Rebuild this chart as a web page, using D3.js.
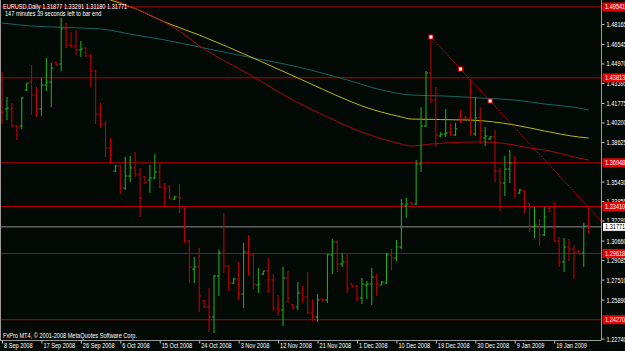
<!DOCTYPE html>
<html lang="en">
<head>
<meta charset="UTF-8">
<title>EURUSD Daily</title>
<script src="https://d3js.org/d3.v7.min.js"></script>
<style>
    body { margin: 0; background: #030a06; }
    svg { display: block; }
    text { font-family: "Liberation Sans", Arial, sans-serif; font-size: 7px; fill: #ffffff; }
</style>
</head>
<body>
<svg id="chart" width="625" height="351"></svg>
<script>
// OHLC, one entry per daily bar (8 Sep 2008 .. 26 Jan 2009)
const opens = [1.4364,1.4129,1.4129,1.3992,1.3992,1.4283,1.4347,1.4242,1.4129,1.4323,
    1.4347,1.4501,1.4493,1.4776,1.4646,1.4638,1.4606,1.4622,1.4558,1.4436,
    1.4089,1.4008,1.3814,1.3628,1.3669,1.3491,1.3588,1.3653,1.3604,1.3580,
    1.3556,1.3572,1.3620,1.3491,1.3499,1.3402,1.3418,1.3337,1.3063,1.2836,
    1.2853,1.2578,1.2529,1.2449,1.2780,1.2966,1.2861,1.2723,1.2748,1.2634,
    1.2974,1.2950,1.2707,1.2796,1.2820,1.2748,1.2521,1.2505,1.2764,1.2546,
    1.2529,1.2643,1.2610,1.2481,1.2449,1.2594,1.2586,1.2950,1.3055,1.2877,
    1.2893,1.2715,1.2699,1.2602,1.2707,1.2715,1.2772,1.2707,1.2723,1.2950,
    1.2925,1.3014,1.3346,1.3370,1.3362,1.3685,1.3992,1.4420,1.4202,1.3911,
    1.3927,1.3943,1.3919,1.4065,1.4065,1.4057,1.3927,1.4057,1.3895,1.3887,
    1.3903,1.3628,1.3531,1.3644,1.3693,1.3451,1.3467,1.3362,1.3176,1.3184,
    1.3111,1.3329,1.3337,1.3063,1.2893,1.3014,1.2998,1.2982,1.2966,1.31877];
const highs = [1.4428,1.4226,1.4178,1.4000,1.4226,1.4339,1.4485,1.4307,1.4380,1.4541,
    1.4501,1.4509,1.4865,1.4824,1.4751,1.4768,1.4679,1.4630,1.4574,1.4444,
    1.4178,1.4032,1.3895,1.3677,1.3677,1.3741,1.3750,1.3782,1.3653,1.3588,
    1.3677,1.3766,1.3693,1.3531,1.3515,1.3426,1.3523,1.3346,1.3071,1.2933,
    1.3006,1.2586,1.2683,1.2788,1.2990,1.3289,1.2869,1.2764,1.2893,1.3047,
    1.3111,1.2958,1.2845,1.2820,1.2925,1.2796,1.2626,1.2853,1.2820,1.2554,
    1.2731,1.2699,1.2812,1.2594,1.2634,1.2598,1.2958,1.3079,1.3071,1.2966,
    1.2958,1.2715,1.2707,1.2764,1.2740,1.2845,1.2796,1.2740,1.2966,1.2998,
    1.3071,1.3402,1.3410,1.3378,1.3717,1.4145,1.4436,1.4711,1.4307,1.3943,
    1.4129,1.4016,1.4016,1.4121,1.4073,1.4372,1.4226,1.4145,1.3984,1.3911,
    1.3960,1.3653,1.3750,1.3798,1.3750,1.3483,1.3475,1.3370,1.3337,1.3240,
    1.3337,1.3337,1.3378,1.3095,1.3087,1.3079,1.3030,1.2990,1.3208,1.33291];
const lows = [1.4008,1.4040,1.3984,1.3879,1.3968,1.4275,1.4081,1.4065,1.4073,1.4275,
    1.4145,1.4477,1.4436,1.4622,1.4622,1.4566,1.4549,1.4549,1.4307,1.4008,
    1.3976,1.3741,1.3693,1.3620,1.3442,1.3475,1.3539,1.3580,1.3257,1.3523,
    1.3451,1.3564,1.3491,1.3337,1.3402,1.3394,1.3289,1.3047,1.2723,1.2723,
    1.2489,1.2521,1.2327,1.2319,1.2618,1.2804,1.2659,1.2715,1.2586,1.2521,
    1.2788,1.2675,1.2643,1.2788,1.2643,1.2497,1.2457,1.2376,1.2562,1.2513,
    1.2505,1.2562,1.2473,1.2416,1.2408,1.2578,1.2562,1.2796,1.2812,1.2853,
    1.2643,1.2691,1.2570,1.2554,1.2594,1.2546,1.2618,1.2707,1.2715,1.2828,
    1.2901,1.2998,1.3249,1.3354,1.3354,1.3620,1.3984,1.4178,1.3822,1.3903,
    1.3903,1.3911,1.3911,1.4016,1.4048,1.3919,1.3911,1.3846,1.3830,1.3879,
    1.3539,1.3305,1.3426,1.3531,1.3410,1.3442,1.3289,1.3135,1.3087,1.3022,
    1.3103,1.3297,1.3055,1.2853,1.2812,1.2901,1.2756,1.2958,1.2853,1.31180];
const closes = [1.4105,1.4137,1.3992,1.3984,1.4218,1.4339,1.4242,1.4129,1.4323,1.4347,
    1.4461,1.4485,1.4776,1.4646,1.4638,1.4606,1.4614,1.4558,1.4436,1.4089,
    1.4008,1.3814,1.3758,1.3669,1.3491,1.3588,1.3653,1.3604,1.3410,1.3539,
    1.3572,1.3620,1.3499,1.3483,1.3410,1.3418,1.3410,1.3063,1.2853,1.2853,
    1.2618,1.2529,1.2449,1.2780,1.2966,1.2861,1.2723,1.2756,1.2634,1.2974,
    1.2950,1.2715,1.2715,1.2820,1.2748,1.2521,1.2505,1.2764,1.2602,1.2529,
    1.2643,1.2610,1.2481,1.2449,1.2586,1.2578,1.2950,1.3055,1.2877,1.2893,
    1.2683,1.2699,1.2602,1.2715,1.2715,1.2772,1.2715,1.2731,1.2950,1.2925,
    1.3014,1.3362,1.3362,1.3362,1.3685,1.3992,1.4420,1.4202,1.3919,1.3927,
    1.3935,1.3927,1.3968,1.4032,1.4057,1.3927,1.4057,1.3952,1.3911,1.3903,
    1.3628,1.3531,1.3644,1.3693,1.3475,1.3475,1.3370,1.3184,1.3192,1.3111,
    1.3257,1.3305,1.3063,1.2893,1.3014,1.2998,1.2966,1.2958,1.3184,1.31771];

// moving averages, sampled at bar indices
const maSlowBars = [0,6,13,20,27,33,40,50,60,70,77,83,90,97,104,110,117,119];
const maSlowValues = [1.4824,1.4800,1.4788,1.4776,1.4727,1.4687,1.4630,1.4549,1.4469,1.4364,1.4283,1.4242,1.4234,1.4218,1.4202,1.4170,1.4137,1.4121];
const maMidBars = [20,22,27,33,40,50,60,70,73,81,83,95,104,110,117,119];
const maMidValues = [1.5035,1.5010,1.4941,1.4832,1.4727,1.4558,1.4380,1.4202,1.4154,1.4065,1.4048,1.4040,1.4000,1.3952,1.3903,1.3895];
const maFastBars = [21,23,30,35,41,50,59,66,73,81,83,87,90,97,104,107,110,117,119];
const maFastValues = [1.5050,1.5010,1.4889,1.4784,1.4614,1.4412,1.4202,1.4065,1.3943,1.3846,1.3830,1.3846,1.3855,1.3863,1.3838,1.3814,1.3798,1.3733,1.3717];

// horizontal levels, bid line and trendline anchors
const levels = [1.49541, 1.43813, 1.36948, 1.33410, 1.29618, 1.24270];
const bid = 1.31771;
const trendBars = [87, 99];
const trendPrices = [1.4711, 1.4194];

// axis ticks (the ones not hidden by the level tags)
const priceTicks = [1.48165,1.46545,1.44970,1.43395,1.41775,1.40200,1.38625,1.35430,
    1.33855,1.32280,1.30660,1.29085,1.27510,1.25890,1.22740];
const dateTicks = [0,8,16,24,32,40,48,56,64,72,80,88,96,104,112];
const dateLabels = ["8 Sep 2008","17 Sep 2008","26 Sep 2008","6 Oct 2008","15 Oct 2008",
    "24 Oct 2008","3 Nov 2008","12 Nov 2008","21 Nov 2008","1 Dec 2008","10 Dec 2008",
    "19 Dec 2008","30 Dec 2008","9 Jan 2009","19 Jan 2009"];

const plotW = 601, plotH = 340, sx = 0.8;
const svg = d3.select("#chart");

const x = d3.scaleLinear().domain([0, 119]).range([2, 588.7]);
const y = d3.scaleLinear().domain([1.22628, 1.5010]).range([plotH, 0]);

svg.append("rect").attr("width", 625).attr("height", 351).attr("fill", "#030a06");

svg.append("clipPath").attr("id", "plot")
    .append("rect").attr("width", plotW).attr("height", plotH);

const plot = svg.append("g").attr("clip-path", "url(#plot)");

// levels
plot.selectAll(".level").data(levels).enter().append("line")
    .attr("x1", 0).attr("x2", plotW)
    .attr("y1", d => y(d)).attr("y2", d => y(d))
    .attr("stroke", "#b30000").attr("stroke-width", 1);

plot.append("line")
    .attr("x1", 0).attr("x2", plotW).attr("y1", y(bid)).attr("y2", y(bid))
    .attr("stroke", "#8c8c8c");

// moving averages
const maLine = d3.line().x(d => x(d[0])).y(d => y(d[1])).curve(d3.curveMonotoneX);
[[maSlowBars, maSlowValues, "#156464"],
 [maMidBars, maMidValues, "#bdb50a"],
 [maFastBars, maFastValues, "#a80808"]].forEach(([bars, vals, col]) => {
    plot.append("path")
        .attr("d", maLine(bars.map((b, i) => [b, vals[i]])))
        .attr("fill", "none").attr("stroke", col).attr("stroke-width", 1);
});

// bars
const bars = plot.append("g");
opens.forEach((o, i) => {
    const col = closes[i] > o ? "#22b422" : "#c80000";
    const xi = x(i);
    bars.append("line").attr("x1", xi).attr("x2", xi)
        .attr("y1", y(highs[i])).attr("y2", y(lows[i])).attr("stroke", col);
    bars.append("line").attr("x1", xi - 2).attr("x2", xi)
        .attr("y1", y(o)).attr("y2", y(o)).attr("stroke", col);
    bars.append("line").attr("x1", xi).attr("x2", xi + 2)
        .attr("y1", y(closes[i])).attr("y2", y(closes[i])).attr("stroke", col);
});

// trendline, extended to the right edge
const slope = (y(trendPrices[1]) - y(trendPrices[0])) / (x(trendBars[1]) - x(trendBars[0]));
const tx0 = x(trendBars[0]), ty0 = y(trendPrices[0]);
plot.append("line")
    .attr("x1", tx0).attr("y1", ty0)
    .attr("x2", plotW).attr("y2", ty0 + slope * (plotW - tx0))
    .attr("stroke", "#c80000").attr("stroke-dasharray", "2,1");
const handles = [
    [tx0, ty0],
    [(tx0 + x(trendBars[1])) / 2, (ty0 + y(trendPrices[1])) / 2],
    [x(trendBars[1]), y(trendPrices[1])]
];
plot.selectAll(".handle").data(handles).enter().append("rect")
    .attr("x", d => d[0] - 2).attr("y", d => d[1] - 2)
    .attr("width", 4).attr("height", 4)
    .attr("fill", "#ffffff").attr("stroke", "#e00000").attr("stroke-width", 1);

// frame
svg.append("line").attr("x1", 0.5).attr("x2", 0.5).attr("y1", 0).attr("y2", plotH)
    .attr("stroke", "#9a9a9a");
svg.append("line").attr("x1", plotW + 0.5).attr("x2", plotW + 0.5).attr("y1", 0).attr("y2", plotH + 0.5)
    .attr("stroke", "#9a9a9a");
svg.append("line").attr("x1", 0).attr("x2", plotW).attr("y1", plotH + 0.5).attr("y2", plotH + 0.5)
    .attr("stroke", "#9a9a9a");

// price axis
const yAxis = svg.append("g").attr("transform", `translate(${plotW + 0.5},0)`)
    .call(d3.axisRight(y).tickValues(priceTicks).tickFormat(d3.format(".5f")).tickSize(3));
yAxis.select(".domain").remove();
yAxis.selectAll("line").attr("stroke", "#c0c0c0");
yAxis.selectAll("text")
    .attr("x", 5 / sx).attr("dy", "0.35em")
    .attr("transform", `scale(${sx},1)`)
    .attr("fill", "#ffffff").style("font-size", "7px")
    .style("font-family", "'Liberation Sans', Arial, sans-serif");

// date axis
const xAxis = svg.append("g").attr("transform", `translate(0,${plotH + 0.5})`)
    .call(d3.axisBottom(x).tickValues(dateTicks).tickFormat((d, i) => dateLabels[i]).tickSize(3));
xAxis.select(".domain").remove();
xAxis.selectAll("line").attr("stroke", "#c0c0c0");
xAxis.selectAll("text")
    .attr("text-anchor", "start").attr("x", 1.5 / sx).attr("y", 8).attr("dy", 0)
    .attr("transform", `scale(${sx},1)`)
    .attr("fill", "#ffffff").style("font-size", "7px")
    .style("font-family", "'Liberation Sans', Arial, sans-serif");

// price labels for levels and bid
const tags = svg.append("g");
levels.forEach(p => {
    tags.append("rect").attr("x", plotW + 1.5).attr("y", y(p) - 4.5)
        .attr("width", 25).attr("height", 9).attr("fill", "#e60000");
    tags.append("text").attr("transform", `translate(${plotW + 4},${y(p) + 2.5}) scale(${sx},1)`)
        .text(d3.format(".5f")(p));
});
tags.append("rect").attr("x", plotW + 1.5).attr("y", y(bid) - 4.5)
    .attr("width", 25).attr("height", 9).attr("fill", "#ffffff").attr("stroke", "#000");
tags.append("text").attr("transform", `translate(${plotW + 4},${y(bid) + 2.5}) scale(${sx},1)`)
    .style("fill", "#000").text(d3.format(".5f")(bid));

// header and footer text
const note = (tx, ty, s) => svg.append("text")
    .attr("transform", `translate(${tx},${ty}) scale(${sx},1)`).text(s);
note(3, 8.5, "EURUSD,Daily  1.31877 1.33291 1.31180 1.31771");
note(5, 15.5, "147 minutes 39 seconds left to bar end");
note(3, 337.5, "FxPro MT4, \u00a9 2001-2008 MetaQuotes Software Corp.");
</script>
</body>
</html>
